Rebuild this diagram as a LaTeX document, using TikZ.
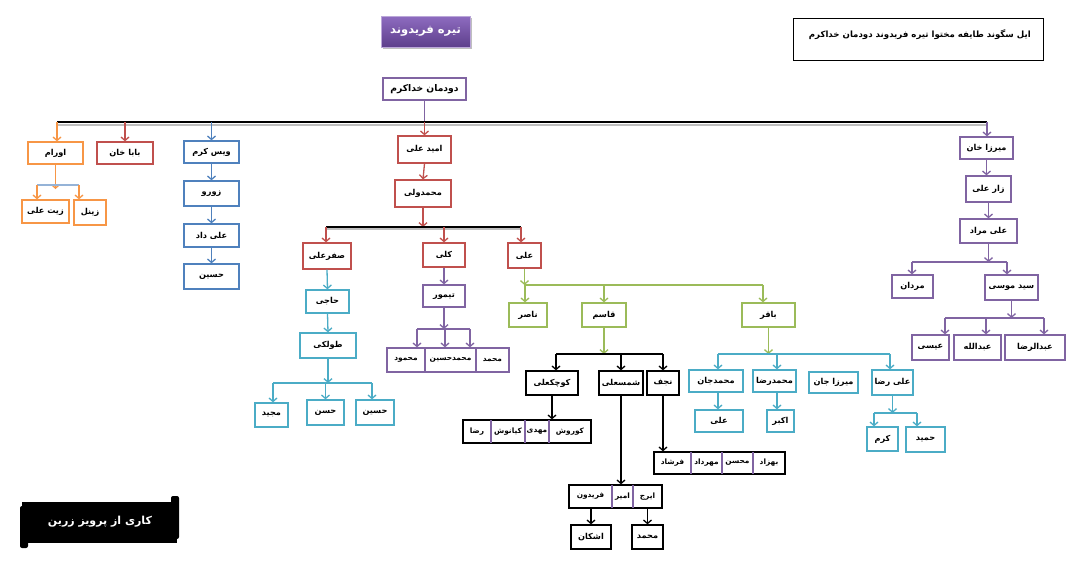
\documentclass[tikz,border=0pt]{standalone}
\usepackage{fontspec}
\usetikzlibrary{arrows.meta,shadows}
\TeXXeTstate=1
\newfontfamily\arfont[Script=Arabic]{DejaVu Sans}
\definecolor{cO}{HTML}{F79646}
\definecolor{cR}{HTML}{C0504D}
\definecolor{cB}{HTML}{4F81BD}
\definecolor{cP}{HTML}{8064A2}
\definecolor{cC}{HTML}{4BACC6}
\definecolor{cG}{HTML}{9BBB59}
\definecolor{cL}{HTML}{95B3D7}
\definecolor{cT1}{HTML}{8E6CC0}
\definecolor{cT2}{HTML}{5E3F8C}
\tikzset{
 box/.style={draw, line width=1.3pt, fill=white, inner sep=0pt, text=black,
   font=\arfont\bfseries\fontsize{8.2}{9}\selectfont},
 lbl/.style={inner sep=0pt, text=black, font=\arfont\bfseries\fontsize{7.4}{9}\selectfont},
 arr/.style={line width=1.3pt, -{Straight Barb[length=3.5pt,width=8pt]}},
 bus/.style={line width=1.3pt},
 mainline/.style={line width=2.2pt, black},
}
\newcommand\mybox[7][]{%
 \pgfmathsetmacro\bcx{(#3+#5)/2}\pgfmathsetmacro\bcy{(#4+#6)/2}%
 \pgfmathsetmacro\bw{#5-#3}\pgfmathsetmacro\bh{#6-#4}%
 \node[box,#1,minimum width=\bw pt,minimum height=\bh pt] (#2) at (\bcx,\bcy) {#7};}
\begin{document}
\begin{tikzpicture}[x=1pt,y=-1pt]
\useasboundingbox[fill=white] (0,0) rectangle (1080,571);

% ---- top
\node[draw=cT1!60!white, line width=1pt, top color=cT1, bottom color=cT2, drop shadow,
  minimum width=89pt, minimum height=31pt, inner sep=0pt, text=white,
  font=\arfont\bfseries\fontsize{11.5}{13}\selectfont] (top) at (425.5,31.5) {\beginR تیره فریدوند\endR};
\mybox[draw=cP, font=\arfont\bfseries\fontsize{9.2}{10}\selectfont]{dodman}{383}{78}{466}{100}{\beginR دودمان خداکرم\endR}

% ---- title
\node[draw, line width=0.8pt, minimum width=250pt, minimum height=42pt, inner sep=0pt] (title) at (918,39) {};
\node[lbl, anchor=east, font=\arfont\bfseries\fontsize{8.6}{10}\selectfont] (titletxt) at (1031,35) {\beginR ایل سگوند طایفه مختوا تیره فریدوند دودمان خداکرم\endR};

% ---- main line
\coordinate (mainL) at (57,122);
\coordinate (mainR) at (987,122);
\draw[line width=2pt, black!25] (57,124.5) -- (987,124.5);
\draw[bus,cP] (dodman.south) -- (dodman.south |- mainL);
\draw[mainline] (mainL) -- (mainR);

% ---- orange
\mybox[draw=cO]{oram}{28}{142}{83}{164}{\beginR اورام\endR}
\mybox[draw=cO]{zitali}{22}{200}{69}{223}{\beginR زیت علی\endR}
\mybox[draw=cO]{zeynal}{74}{200}{106}{225}{\beginR زینل\endR}
\coordinate (bO1) at (37,185);
\coordinate (bO2) at (79,185);
\draw[arr,cO] (mainL) -- (mainL |- oram.north);
\draw[arr,cO] (oram.south) -- ([yshift=-4pt]oram.south |- bO1);
\draw[bus,cL] (bO1) -- (bO2);
\draw[arr,cO] (bO1) -- (bO1 |- zitali.north);
\draw[arr,cO] (bO2) -- (bO2 |- zeynal.north);

% ---- red baba khan
\mybox[draw=cR]{babakhan}{97}{142}{153}{164}{\beginR بابا خان\endR}
\draw[arr,cR] (babakhan.north |- mainL) -- (babakhan.north);

% ---- blue
\mybox[draw=cB]{veys}{184}{141}{239}{163}{\beginR ویس کرم\endR}
\mybox[draw=cB]{zoro}{184}{181}{239}{206}{\beginR زورو\endR}
\mybox[draw=cB]{alidad}{184}{224}{239}{247}{\beginR علی داد\endR}
\mybox[draw=cB]{hoseinA}{184}{264}{239}{289}{\beginR حسین\endR}
\draw[arr,cB] (veys.north |- mainL) -- (veys.north);
\draw[arr,cB] (veys.south) -- (zoro.north);
\draw[arr,cB] (zoro.south) -- (alidad.north);
\draw[arr,cB] (alidad.south) -- (hoseinA.north);

% ---- red middle
\mybox[draw=cR]{omid}{398}{136}{451}{163}{\beginR امید علی\endR}
\mybox[draw=cR]{mvali}{395}{180}{451}{207}{\beginR محمدولی\endR}
\mybox[draw=cR]{safar}{303}{243}{351}{269}{\beginR صفرعلی\endR}
\mybox[draw=cR]{koli}{423}{243}{465}{267}{\beginR کلی\endR}
\mybox[draw=cR]{aliA}{508}{243}{541}{268}{\beginR علی\endR}
\draw[arr,cR] (omid.north |- mainL) -- (omid.north);
\draw[arr,cR] (omid.south) -- (mvali.north);
\coordinate (bM1) at (326,227);
\coordinate (bM2) at (521,227);
\draw[line width=2pt, black!25] (326,229) -- (521,229);
\draw[arr,cR] (mvali.south) -- (mvali.south |- bM1);
\draw[line width=2pt,black] (bM1) -- (bM2);
\draw[arr,cR] (bM1) -- (bM1 |- safar.north);
\draw[arr,cR] (koli.north |- bM1) -- (koli.north);
\draw[arr,cR] (bM2) -- (bM2 |- aliA.north);

% ---- cyan (safar)
\mybox[draw=cC]{haji}{306}{290}{349}{313}{\beginR حاجی\endR}
\mybox[draw=cC]{tolki}{300}{333}{356}{358}{\beginR طولکی\endR}
\mybox[draw=cC]{majid}{255}{403}{288}{427}{\beginR مجید\endR}
\mybox[draw=cC]{hasan}{307}{400}{344}{425}{\beginR حسن\endR}
\mybox[draw=cC]{hoseinB}{356}{400}{394}{425}{\beginR حسین\endR}
\draw[arr,cC] (safar.south) -- (haji.north);
\draw[arr,cC] (haji.south) -- (tolki.north);
\coordinate (bT1) at (273,383);
\coordinate (bT2) at (372,383);
\draw[arr,cC] (tolki.south) -- (tolki.south |- bT1);
\draw[bus,cC] (bT1) -- (bT2);
\draw[arr,cC] (bT1) -- (bT1 |- majid.north);
\draw[arr,cC] (hasan.north |- bT1) -- (hasan.north);
\draw[arr,cC] (bT2) -- (bT2 |- hoseinB.north);

% ---- purple (koli)
\mybox[draw=cP]{teymur}{423}{285}{465}{307}{\beginR تیمور\endR}
\mybox[draw=cP]{segP}{387}{348}{509}{372}{}
\draw[line width=1.3pt,cP] (425,348) -- (425,372) (476,348) -- (476,372);
\node[lbl] (segP1) at (406,360) {\beginR محمود\endR};
\node[lbl] (segP2) at (450.5,360) {\beginR محمدحسین\endR};
\node[lbl] (segP3) at (492.5,360) {\beginR محمد\endR};
\draw[arr,cP] (koli.south) -- (teymur.north);
\coordinate (bK1) at (417,329);
\coordinate (bK2) at (445,329);
\coordinate (bK3) at (470,329);
\draw[arr,cP] (teymur.south) -- (teymur.south |- bK1);
\draw[bus,cP] (bK1) -- (bK3);
\draw[arr,cP] (bK1) -- (bK1 |- segP.north);
\draw[arr,cP] (bK2) -- (bK2 |- segP.north);
\draw[arr,cP] (bK3) -- (bK3 |- segP.north);

% ---- green (ali)
\mybox[draw=cG]{naser}{509}{303}{547}{327}{\beginR ناصر\endR}
\mybox[draw=cG]{qasem}{582}{303}{626}{327}{\beginR قاسم\endR}
\mybox[draw=cG]{baqer}{742}{303}{795}{327}{\beginR باقر\endR}
\coordinate (bA1) at (525,285);
\coordinate (bA2) at (763,285);
\draw[arr,cG] (aliA.south) -- (aliA.south |- bA1);
\draw[bus,cG] (bA1) -- (bA2);
\draw[arr,cG] (bA1) -- (bA1 |- naser.north);
\draw[arr,cG] (qasem.north |- bA1) -- (qasem.north);
\draw[arr,cG] (bA2) -- (bA2 |- baqer.north);

% ---- black (qasem)
\mybox[draw=black]{kuchak}{526}{371}{578}{395}{\beginR کوچکعلی\endR}
\mybox[draw=black]{shams}{599}{371}{643}{395}{\beginR شمسعلی\endR}
\mybox[draw=black]{najaf}{647}{371}{679}{395}{\beginR نجف\endR}
\coordinate (bQ1) at (556,354);
\coordinate (bQ2) at (663,354);
\draw[arr,cG] (qasem.south) -- (qasem.south |- bQ1);
\draw[bus,black] (bQ1) -- (bQ2);
\draw[arr,black] (bQ1) -- (bQ1 |- kuchak.north);
\draw[arr,black] (shams.north |- bQ1) -- (shams.north);
\draw[arr,black] (bQ2) -- (bQ2 |- najaf.north);

\mybox[draw=black]{segK}{463}{420}{591}{443}{}
\draw[line width=1.3pt,cP] (491,420) -- (491,443) (525,420) -- (525,443) (549,420) -- (549,443);
\node[lbl] (segK1) at (477,431.5) {\beginR رضا\endR};
\node[lbl] (segK2) at (508,431.5) {\beginR کیانوش\endR};
\node[lbl] (segK3) at (537,431.5) {\beginR مهدی\endR};
\node[lbl] (segK4) at (570,431.5) {\beginR کوروش\endR};
\draw[arr,black] (kuchak.south) -- (kuchak.south |- segK.north);

\mybox[draw=black]{segS}{569}{485}{662}{508}{}
\draw[line width=1.3pt,cP] (612,485) -- (612,508) (633,485) -- (633,508);
\node[lbl] (segS1) at (590.5,496.5) {\beginR فریدون\endR};
\node[lbl] (segS2) at (622.5,496.5) {\beginR امیر\endR};
\node[lbl] (segS3) at (647.5,496.5) {\beginR ایرج\endR};
\draw[arr,black] (shams.south) -- (shams.south |- segS.north);

\mybox[draw=black]{segN}{654}{452}{785}{474}{}
\draw[line width=1.3pt,cP] (691,452) -- (691,474) (722,452) -- (722,474) (753,452) -- (753,474);
\node[lbl] (segN1) at (672.5,463) {\beginR فرشاد\endR};
\node[lbl] (segN2) at (706.5,463) {\beginR مهرداد\endR};
\node[lbl] (segN3) at (737.5,463) {\beginR محسن\endR};
\node[lbl] (segN4) at (769,463) {\beginR بهزاد\endR};
\draw[arr,black] (najaf.south) -- (najaf.south |- segN.north);

\mybox[draw=black]{ashkan}{571}{525}{611}{549}{\beginR اشکان\endR}
\mybox[draw=black]{mohammad}{632}{525}{663}{549}{\beginR محمد\endR}
\draw[arr,black] (ashkan.north |- segS.south) -- (ashkan.north);
\draw[arr,black] (mohammad.north |- segS.south) -- (mohammad.north);

% ---- cyan (baqer)
\mybox[draw=cC]{mjan}{689}{370}{743}{392}{\beginR محمدجان\endR}
\mybox[draw=cC]{mreza}{753}{370}{796}{392}{\beginR محمدرضا\endR}
\mybox[draw=cC]{mirzajan}{809}{372}{858}{393}{\beginR میرزا جان\endR}
\mybox[draw=cC]{alireza}{872}{370}{913}{395}{\beginR علی رضا\endR}
\mybox[draw=cC]{aliB}{695}{410}{743}{432}{\beginR علی\endR}
\mybox[draw=cC]{akbar}{767}{410}{794}{432}{\beginR اکبر\endR}
\mybox[draw=cC]{karam}{867}{427}{898}{451}{\beginR کرم\endR}
\mybox[draw=cC]{hamid}{906}{427}{945}{452}{\beginR حمید\endR}
\coordinate (bB1) at (718,354);
\coordinate (bB2) at (777,354);
\coordinate (bB3) at (890,354);
\draw[arr,cG] (baqer.south) -- (baqer.south |- bB1);
\draw[bus,cC] (bB1) -- (bB3);
\draw[arr,cC] (bB1) -- (bB1 |- mjan.north);
\draw[arr,cC] (bB2) -- (bB2 |- mreza.north);
\draw[arr,cC] (bB3) -- (bB3 |- alireza.north);
\draw[arr,cC] (bB1 |- mjan.south) -- (bB1 |- aliB.north);
\draw[arr,cC] (bB2 |- mreza.south) -- (bB2 |- akbar.north);
\coordinate (bR1) at (874,413);
\coordinate (bR2) at (917,413);
\draw[arr,cC] (alireza.south) -- (alireza.south |- bR1);
\draw[bus,cC] (bR1) -- (bR2);
\draw[arr,cC] (bR1) -- (bR1 |- karam.north);
\draw[arr,cC] (bR2) -- (bR2 |- hamid.north);

% ---- right purple
\mybox[draw=cP]{mirzakhan}{960}{137}{1013}{159}{\beginR میرزا خان\endR}
\mybox[draw=cP]{zarali}{966}{176}{1011}{202}{\beginR زار علی\endR}
\mybox[draw=cP]{alimorad}{960}{219}{1017}{243}{\beginR علی مراد\endR}
\mybox[draw=cP]{mardan}{892}{275}{933}{298}{\beginR مردان\endR}
\mybox[draw=cP]{seyed}{985}{275}{1038}{300}{\beginR سید موسی\endR}
\mybox[draw=cP]{isa}{912}{335}{949}{360}{\beginR عیسی\endR}
\mybox[draw=cP]{abdollah}{954}{335}{1001}{360}{\beginR عبدالله\endR}
\mybox[draw=cP]{abdoreza}{1005}{335}{1065}{360}{\beginR عبدالرضا\endR}
\draw[arr,cP] (mainR) -- (mainR |- mirzakhan.north);
\draw[arr,cP] (mirzakhan.south) -- (mirzakhan.south |- zarali.north);
\draw[arr,cP] (zarali.south) -- (zarali.south |- alimorad.north);
\coordinate (bS1) at (912,262);
\coordinate (bS2) at (1007,262);
\draw[arr,cP] (alimorad.south) -- (alimorad.south |- bS1);
\draw[bus,cP] (bS1) -- (bS2);
\draw[arr,cP] (bS1) -- (bS1 |- mardan.north);
\draw[arr,cP] (bS2) -- (bS2 |- seyed.north);
\coordinate (bU1) at (945,318);
\coordinate (bU2) at (986,318);
\coordinate (bU3) at (1044,318);
\draw[arr,cP] (seyed.south) -- (seyed.south |- bU1);
\draw[bus,cP] (bU1) -- (bU3);
\draw[arr,cP] (bU1) -- (bU1 |- isa.north);
\draw[arr,cP] (bU2) -- (bU2 |- abdollah.north);
\draw[arr,cP] (bU3) -- (bU3 |- abdoreza.north);

% ---- banner
\fill[black] (22,502) rectangle (177,543);
\fill[black, rounded corners=2pt] (171,496) rectangle (179,539);
\fill[black, rounded corners=2pt] (20,506) rectangle (28,548);
\node[inner sep=0pt, text=white, font=\arfont\bfseries\fontsize{11}{13}\selectfont] (banner) at (100,522) {\beginR کاری از پرویز زرین\endR};
\end{tikzpicture}
\end{document}
